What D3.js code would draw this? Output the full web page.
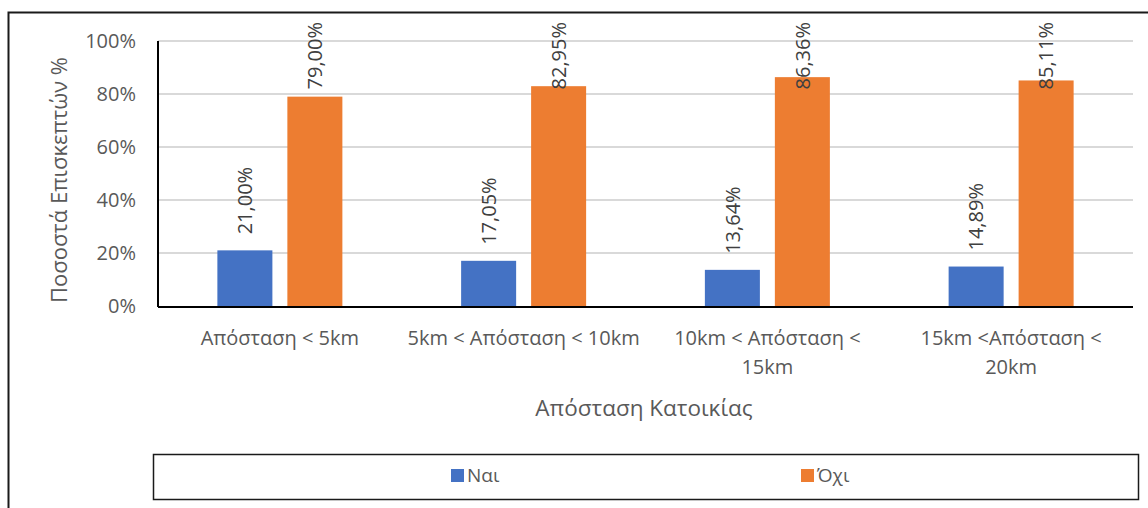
<!DOCTYPE html>
<html>
<head>
<meta charset="utf-8">
<script src="https://cdn.jsdelivr.net/npm/d3@7"></script>
<style>
  html, body { margin: 0; padding: 0; background: #fff; }
  svg { display: block; font-family: "Open Sans", "Noto Sans", sans-serif; }
</style>
</head>
<body>
<svg></svg>
<script>
const width = 1148;
const height = 508;

// data
const categories = [
  ["Απόσταση < 5km"],
  ["5km < Απόσταση < 10km"],
  ["10km < Απόσταση <", "15km"],
  ["15km <Απόσταση <", "20km"]
];
const series = ["Ναι", "Όχι"];
const yesValues = [21.00, 17.05, 13.64, 14.89];
const noValues = [79.00, 82.95, 86.36, 85.11];
const yTicks = [0, 20, 40, 60, 80, 100];

const colors = ["#4472C4", "#ED7D31"];
const textColor = "#595959";

const svg = d3.select("svg")
  .attr("width", width)
  .attr("height", height);

// outer chart border (runs off the right and bottom)
svg.append("rect")
  .attr("x", 8.5)
  .attr("y", 12.5)
  .attr("width", 1200)
  .attr("height", 600)
  .attr("fill", "none")
  .attr("stroke", "#1a1a1a")
  .attr("stroke-width", 2);

const plot = { left: 158, right: 1133, top: 41, bottom: 306 };

const x0 = d3.scaleBand()
  .domain(d3.range(categories.length))
  .range([plot.left, plot.right]);

const x1 = d3.scaleBand()
  .domain(series)
  .range([0, 125])
  .paddingInner(0.214);

const y = d3.scaleLinear()
  .domain([0, 100])
  .range([plot.bottom, plot.top]);

// gridlines
svg.append("g")
  .selectAll("line")
  .data(yTicks.slice(1))
  .join("line")
  .attr("x1", plot.left)
  .attr("x2", plot.right)
  .attr("y1", d => y(d))
  .attr("y2", d => y(d))
  .attr("stroke", "#D9D9D9")
  .attr("stroke-width", 2);

// y axis labels
const yAxis = d3.axisLeft(y)
  .tickValues(yTicks)
  .tickFormat(d => d + "%")
  .tickSize(0)
  .tickPadding(22);

svg.append("g")
  .attr("transform", `translate(${plot.left},0)`)
  .call(yAxis)
  .attr("font-family", null)
  .attr("font-size", null)
  .call(g => g.select(".domain").remove())
  .selectAll("text")
  .attr("fill", textColor)
  .style("font-size", "20px");

// bars
const rows = categories.map((c, i) => ({ i, vals: [yesValues[i], noValues[i]] }));

const groups = svg.append("g")
  .selectAll("g")
  .data(rows)
  .join("g")
  .attr("transform", d => `translate(${x0(d.i) + x0.bandwidth() / 2 - 62.5},0)`);

groups.selectAll("rect")
  .data(d => d.vals.map((v, k) => ({ v, s: series[k], k })))
  .join("rect")
  .attr("x", d => x1(d.s))
  .attr("width", x1.bandwidth())
  .attr("y", d => y(d.v))
  .attr("height", d => plot.bottom - y(d.v))
  .attr("fill", d => colors[d.k]);

// data labels, rotated, kept inside chart area
groups.selectAll("text")
  .data(d => d.vals.map((v, k) => ({ v, s: series[k], k })))
  .join("text")
  .attr("text-anchor", "start")
  .attr("dy", "0.36em")
  .attr("fill", "#404040")
  .style("font-size", "20px")
  .text(d => d3.format(".2f")(d.v).replace(".", ",") + "%")
  .attr("transform", function(d) {
    const cx = x1(d.s) + x1.bandwidth() / 2;
    const len = this.getComputedTextLength();
    const base = Math.max(y(d.v) - 16, 22 + len);
    return `translate(${cx},${base}) rotate(-90)`;
  });

// axis lines
svg.append("line")
  .attr("x1", plot.left).attr("x2", plot.left)
  .attr("y1", plot.top).attr("y2", plot.bottom + 1)
  .attr("stroke", "#000").attr("stroke-width", 2);
svg.append("line")
  .attr("x1", plot.left).attr("x2", plot.right)
  .attr("y1", plot.bottom + 1).attr("y2", plot.bottom + 1)
  .attr("stroke", "#000").attr("stroke-width", 2);

// category labels
const cat = svg.append("g")
  .selectAll("text")
  .data(categories)
  .join("text")
  .attr("x", (d, i) => x0(i) + x0.bandwidth() / 2)
  .attr("y", 345)
  .attr("text-anchor", "middle")
  .attr("fill", textColor)
  .style("font-size", "20px");

cat.selectAll("tspan")
  .data(d => d)
  .join("tspan")
  .attr("x", function() { return this.parentNode.getAttribute("x"); })
  .attr("dy", (d, j) => j === 0 ? 0 : 29)
  .text(d => d);

// axis titles
svg.append("text")
  .attr("x", 644)
  .attr("y", 416)
  .attr("text-anchor", "middle")
  .attr("fill", textColor)
  .style("font-size", "22.5px")
  .text("Απόσταση Κατοικίας");

svg.append("text")
  .attr("transform", `translate(67,180) rotate(-90)`)
  .attr("text-anchor", "middle")
  .attr("fill", textColor)
  .style("font-size", "22px")
  .text("Ποσοστά Επισκεπτών %");

// legend
svg.append("rect")
  .attr("x", 153.5)
  .attr("y", 454.5)
  .attr("width", 985)
  .attr("height", 45)
  .attr("fill", "none")
  .attr("stroke", "#1a1a1a")
  .attr("stroke-width", 1.5);

const legendX = [451, 801];

const item = svg.append("g")
  .selectAll("g")
  .data(series)
  .join("g")
  .attr("transform", (d, i) => `translate(${legendX[i]},469)`);

item.append("rect")
  .attr("width", 13)
  .attr("height", 13)
  .attr("fill", (d, i) => colors[i]);

item.append("text")
  .attr("x", 16)
  .attr("y", 13)
  .attr("fill", textColor)
  .style("font-size", "19px")
  .text(d => d);
</script>
</body>
</html>
